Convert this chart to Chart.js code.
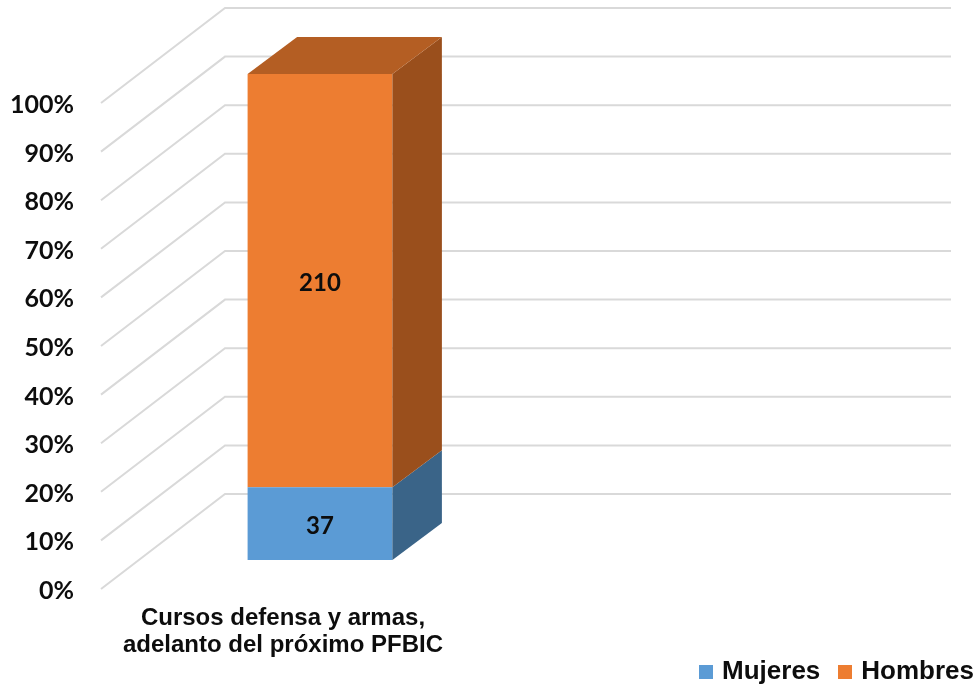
<!DOCTYPE html>
<html>
<head>
<meta charset="utf-8">
<title>Cursos defensa y armas</title>
<script src="https://cdn.jsdelivr.net/npm/chart.js@4/dist/chart.umd.min.js"></script>
<style>
  html, body { margin: 0; padding: 0; background: #fff; }
  #chart { display: block; }
</style>
</head>
<body>
<canvas id="chart" width="974" height="688"></canvas>
<script>
const categories = [["Cursos defensa y armas,", "adelanto del próximo PFBIC"], ""];
const mujeres = [37, null];
const hombres = [210, null];
const tickStep = 10;

// 100% stacked: bars are drawn from each series' share of the total
const share = (values) => values.map((v, i) =>
  v === null ? null : (v / (mujeres[i] + hombres[i])) * 100
);

const gridColor = "#d9d9d9";
const textColor = "#0d0d0d";
const sideColors = ["#3a6488", "#9a4f1c"];
const topColor = "#b45e23";

// offsets of the fake 3D box, relative to the plane the bars stand on
const barDepth = { x: 49.5, y: -37 };
const wallDepth = { x: 86, y: -66 };
const floorFront = { x: -38, y: 29 };
const wallRight = 951;

function swatch(color) {
  const c = document.createElement("canvas");
  c.width = 14;
  c.height = 14;
  const g = c.getContext("2d");
  g.fillStyle = color;
  g.fillRect(0, 0, 14, 14);
  return c;
}

function face(ctx, color, pts) {
  ctx.fillStyle = color;
  ctx.beginPath();
  pts.forEach((p, i) => (i ? ctx.lineTo(p[0], p[1]) : ctx.moveTo(p[0], p[1])));
  ctx.closePath();
  ctx.fill();
}

const box3d = {
  id: "box3d",
  afterLayout(chart) {
    // legend sits in the bottom right corner, outside the plot's width
    const lg = chart.legend;
    lg.left = 0;
    lg.right = 996;
    lg.top += 7;
    lg.bottom += 7;
    lg.adjustHitBoxes();
    // two line category label runs past the axis box, which would clip it
    chart.scales.x.bottom = chart.height;
  },
  beforeDatasetsDraw(chart) {
    const { ctx, scales } = chart;
    const left = chart.chartArea.left;
    ctx.save();
    ctx.strokeStyle = gridColor;
    ctx.lineWidth = 2;
    for (let v = 0; v <= 100; v += tickStep) {
      const y = scales.y.getPixelForValue(v);
      ctx.beginPath();
      ctx.moveTo(left + floorFront.x, y + floorFront.y);
      ctx.lineTo(left + wallDepth.x, y + wallDepth.y);
      ctx.lineTo(wallRight, y + wallDepth.y);
      ctx.stroke();
    }
    ctx.restore();
  },
  afterDatasetsDraw(chart) {
    const { ctx, data } = chart;
    ctx.save();
    data.datasets.forEach((ds, i) => {
      const bar = chart.getDatasetMeta(i).data[0];
      const r = bar.x + bar.width / 2;
      const l = bar.x - bar.width / 2;
      face(ctx, sideColors[i], [
        [r, bar.y],
        [r + barDepth.x, bar.y + barDepth.y],
        [r + barDepth.x, bar.base + barDepth.y],
        [r, bar.base],
      ]);
      if (i === data.datasets.length - 1) {
        face(ctx, topColor, [
          [l, bar.y],
          [l + barDepth.x, bar.y + barDepth.y],
          [r + barDepth.x, bar.y + barDepth.y],
          [r, bar.y],
        ]);
      }
      ctx.fillStyle = textColor;
      ctx.font = "bold 24px Lato";
      ctx.textAlign = "center";
      ctx.textBaseline = "middle";
      ctx.fillText(String(ds.counts[0]), bar.x, (bar.y + bar.base) / 2 + 3);
    });
    ctx.restore();
  },
};

new Chart(document.getElementById("chart"), {
  type: "bar",
  data: {
    labels: categories,
    datasets: [
      { label: "Mujeres", data: share(mujeres), counts: mujeres, backgroundColor: "#5b9bd5" },
      { label: "Hombres", data: share(hombres), counts: hombres, backgroundColor: "#ed7d31" },
    ],
  },
  options: {
    responsive: false,
    animation: false,
    layout: { padding: { top: 74, right: 111, bottom: 0, left: 0 } },
    datasets: { bar: { barPercentage: 0.4, categoryPercentage: 1 } },
    plugins: {
      tooltip: { enabled: false },
      legend: {
        position: "bottom",
        align: "end",
        labels: {
          usePointStyle: true,
          pointStyleWidth: 6,
          padding: 22,
          color: textColor,
          font: { family: "Liberation Sans", weight: "bold", size: 26 },
          generateLabels(chart) {
            const items = Chart.defaults.plugins.legend.labels.generateLabels(chart);
            items.forEach((it, i) => {
              it.pointStyle = swatch(chart.data.datasets[i].backgroundColor);
            });
            return items;
          },
        },
      },
    },
    scales: {
      x: {
        stacked: true,
        grid: { display: false },
        border: { display: false },
        afterFit(scale) {
          scale.height = 128 - scale.chart.legend.height;
        },
        ticks: {
          maxRotation: 0,
          autoSkip: false,
          labelOffset: -37,
          padding: 37,
          color: textColor,
          font: { family: "Liberation Sans", weight: "bold", size: 24, lineHeight: 1.125 },
        },
      },
      y: {
        stacked: true,
        min: 0,
        max: 100,
        grid: { display: false },
        border: { display: false },
        afterFit(scale) {
          scale.width = 139;
          scale.paddingTop = 0;
          scale.paddingBottom = 0;
        },
        ticks: {
          stepSize: tickStep,
          labelOffset: 31,
          padding: 57,
          color: textColor,
          font: { family: "Lato", weight: "bold", size: 25 },
          callback: (v) => v + "%",
        },
      },
    },
  },
  plugins: [box3d],
});
</script>
</body>
</html>
